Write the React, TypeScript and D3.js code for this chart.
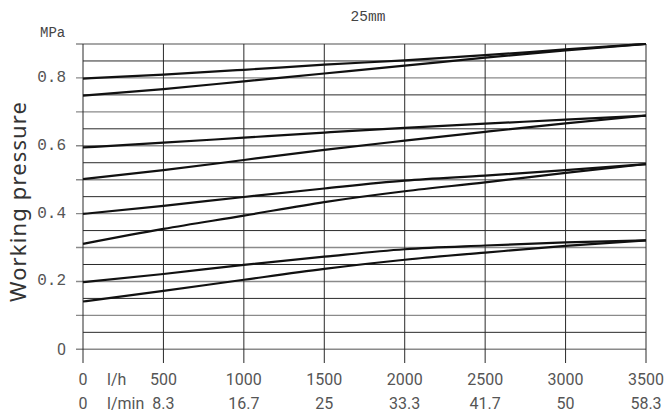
import React from "react";
import * as d3 from "d3";

const flowLh = [0, 500, 1000, 1500, 2000, 2500, 3000, 3500];
const flowLminLabels = ["0", "8.3", "16.7", "25", "33.3", "41.7", "50", "58.3"];
const flowLhLabels = ["0", "500", "1000", "1500", "2000", "2500", "3000", "3500"];
const yTicks = [0, 0.2, 0.4, 0.6, 0.8];
const yTickLabels = ["0", "0.2", "0.4", "0.6", "0.8"];

const pair1Upper = [0.798, 0.81, 0.824, 0.839, 0.852, 0.867, 0.884, 0.9];
const pair1Lower = [0.748, 0.767, 0.79, 0.813, 0.836, 0.86, 0.881, 0.9];
const pair2Upper = [0.595, 0.609, 0.624, 0.639, 0.653, 0.665, 0.677, 0.689];
const pair2Lower = [0.502, 0.528, 0.558, 0.588, 0.615, 0.641, 0.666, 0.689];
const pair3Upper = [0.399, 0.423, 0.449, 0.474, 0.497, 0.512, 0.528, 0.546];
const pair3Lower = [0.311, 0.355, 0.394, 0.434, 0.466, 0.492, 0.52, 0.546];
const pair4Upper = [0.198, 0.222, 0.249, 0.273, 0.295, 0.306, 0.315, 0.321];
const pair4Lower = [0.141, 0.172, 0.205, 0.237, 0.264, 0.285, 0.305, 0.321];

const series = [pair1Upper, pair1Lower, pair2Upper, pair2Lower, pair3Upper, pair3Lower, pair4Upper, pair4Lower];

export default function App() {
  const W = 664;
  const H = 414;
  const x = d3.scaleLinear().domain([0, 3500]).range([83, 646]);
  const y = d3.scaleLinear().domain([0, 0.9]).range([349.3, 44]);
  const gridVals = d3.range(0, 0.9001, 0.05).map((v) => +v.toFixed(2));
  const line = d3
    .line<number>()
    .x((_, i) => x(flowLh[i]))
    .y((d) => y(d))
    .curve(d3.curveMonotoneX);
  const mono = "'Liberation Mono', 'DejaVu Sans Mono', monospace";
  const sans = "Roboto, 'Noto Sans', sans-serif";

  return (
    <svg width={W} height={H} style={{ position: "absolute", left: 0, top: 0, background: "#fff" }}>
      <rect width={W} height={H} fill="#fff" />
      {gridVals.map((v, i) => {
        const major = Math.round(v * 100) % 10 === 0;
        return (
          <line
            key={"h" + i}
            x1={major ? 76 : x(0)}
            x2={x(3500)}
            y1={y(v)}
            y2={y(v)}
            stroke={major ? "#8a8a8a" : "#2a2a2a"}
            strokeWidth={major ? 1.4 : 1}
          />
        );
      })}
      {flowLh.map((f, i) => (
        <line key={"v" + i} x1={x(f)} x2={x(f)} y1={y(0.9)} y2={363} stroke="#2a2a2a" strokeWidth={1} />
      ))}
      {series.map((s, i) => (
        <path key={"s" + i} d={line(s) || ""} fill="none" stroke="#111" strokeWidth={2.2} strokeLinejoin="round" />
      ))}
      {yTicks.map((t, i) => (
        <text
          key={"yt" + i}
          x={66}
          y={y(t)}
          textAnchor="end"
          dominantBaseline="central"
          fontFamily={t === 0 ? sans : mono}
          fontSize={16}
          fill="#555"
        >
          {yTickLabels[i]}
        </text>
      ))}
      <text x={40} y={37} fontFamily={mono} fontSize={14} fill="#444">
        MPa
      </text>
      <text x={368} y={21} textAnchor="middle" fontFamily={mono} fontSize={14.5} fill="#444">
        25mm
      </text>
      <text
        transform={`translate(26,202) rotate(-90)`}
        textAnchor="middle"
        fontFamily="'Noto Sans', 'Open Sans', sans-serif"
        fontSize={22}
        fill="#333"
        textLength={200}
        lengthAdjust="spacing"
      >
        Working pressure
      </text>
      {flowLh.map((f, i) => (
        <text key={"xl" + i} x={x(f)} y={385} textAnchor="middle" fontFamily={sans} fontSize={16} fill="#555">
          {flowLhLabels[i]}
        </text>
      ))}
      {flowLh.map((f, i) => (
        <text key={"xm" + i} x={x(f)} y={409} textAnchor="middle" fontFamily={sans} fontSize={16} fill="#555">
          {flowLminLabels[i]}
        </text>
      ))}
      <text x={107} y={385} fontFamily={sans} fontSize={16} fill="#555">
        l/h
      </text>
      <text x={107} y={409} fontFamily={sans} fontSize={16} fill="#555">
        l/min
      </text>
    </svg>
  );
}
